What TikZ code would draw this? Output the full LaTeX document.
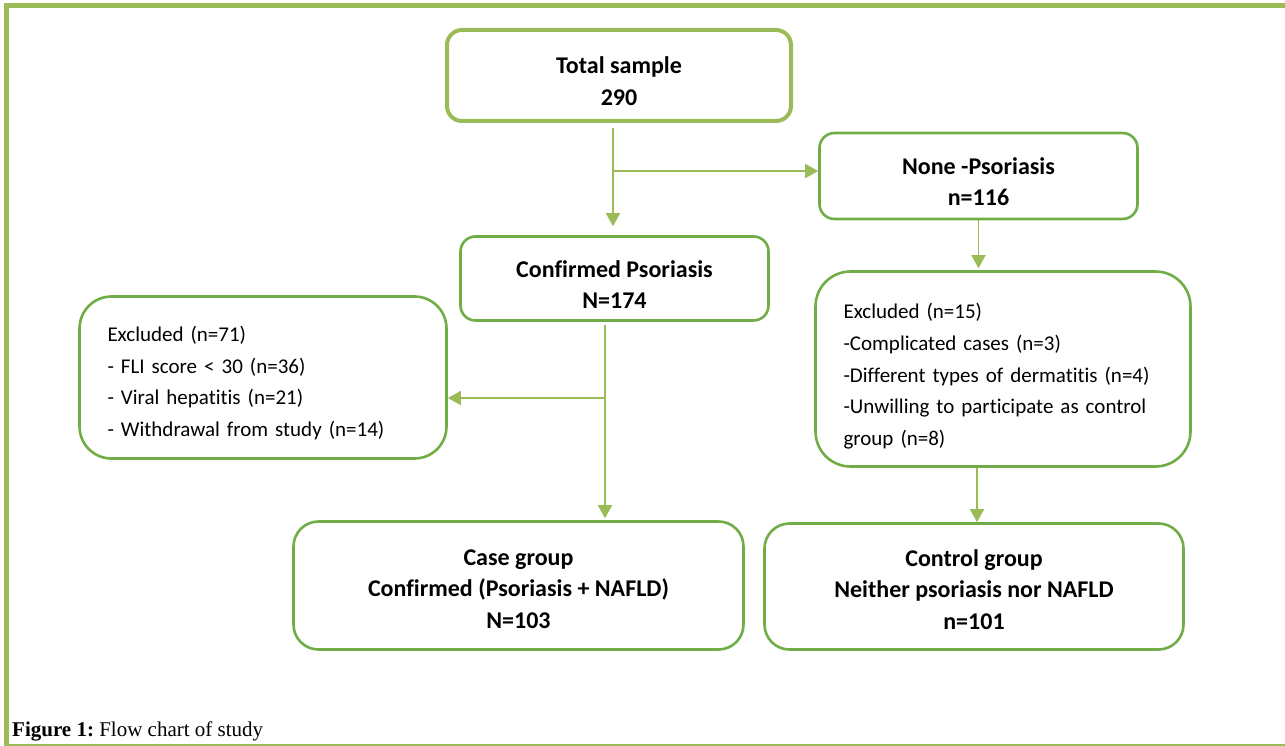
\documentclass[tikz,border=0pt]{standalone}
\usepackage{fontspec}
\setmainfont{Carlito}[Ligatures=NoCommon]
\newfontfamily\capfont{Liberation Serif}
\usetikzlibrary{arrows.meta}
\definecolor{lgrn}{RGB}{155,187,89}
\definecolor{dgrn}{RGB}{112,173,71}
\begin{document}
\begin{tikzpicture}[x=1pt, y=-1pt,
		box/.style={draw=dgrn, line width=2.6pt, rounded corners=15pt, inner sep=0pt, align=center, text height=60pt, font=\fontsize{24}{31.5}\selectfont\bfseries},
		listbox/.style={draw=dgrn, line width=2.6pt, rounded corners=32pt, inner xsep=28pt, inner ysep=0pt, align=left, font=\fontsize{21}{31.6}\selectfont},
		arr/.style={draw=lgrn, line width=1.6pt, -{Triangle[length=13pt,width=14pt]}}]
		\useasboundingbox (0,0) rectangle (1285,746);
		\draw[lgrn, line width=5pt] (6.5,750) -- (6.5,5.5) -- (1290,5.5);
		\draw[lgrn, line width=2pt] (6.5,745) -- (1290,745);
		\node at (619,75.5) [box, draw=lgrn, line width=4pt, minimum width=344pt, minimum height=91pt] (tot) {Total sample\\290};
		\node at (978.5,176) [box, minimum width=318pt, minimum height=86pt] (non) {None -Psoriasis\\n=116};
		\node at (614.5,278.5) [box, minimum width=308pt, minimum height=84pt] (conf) {Confirmed Psoriasis\\N=174};
		\node at (263,377.5) [listbox, text height=26pt, text width=311pt, minimum height=162pt] (exl) {Excluded (n=71)\\- FLI score {\char`\<} 30 (n=36)\\- Viral hepatitis (n=21)\\- Withdrawal from study (n=14)};
		\node at (1003,369) [listbox, text height=30pt, rounded corners=35pt, text width=319pt, minimum height=195pt] (exr) {Excluded (n=15)\\-Complicated cases (n=3)\\-Different types of dermatitis (n=4)\\-Unwilling to participate as control\\group (n=8)};
		\node at (518.5,585.5) [box, text height=86pt, rounded corners=25pt, minimum width=450pt, minimum height=128pt] (case) {Case group\\Confirmed (Psoriasis + NAFLD)\\N=103};
		\node at (974,586.5) [box, text height=86pt, rounded corners=25pt, minimum width=419pt, minimum height=126pt] (ctl) {Control group\\Neither psoriasis nor NAFLD\\n=101};
		\node at (12,736) [anchor=base west, inner sep=0pt] (cap) {\capfont\fontsize{21}{24}\selectfont\textbf{Figure 1:}\ Flow chart of study};
		\coordinate (split) at (613,171);
		\coordinate (knee) at (605,398);
		\draw[arr, shorten <=5pt, shorten >=9pt] (tot.south -| split) -- (conf.north -| split);
		\draw[arr] (split) -- (split -| non.west);
		\draw[arr, shorten >=2pt] (non.south) -- (non.south |- exr.north);
		\draw[arr, shorten <=3pt, shorten >=2pt] (conf.south -| knee) -- (case.north -| knee);
		\draw[arr] (knee) -- (knee -| exl.east);
		\draw[arr] (exr.south -| 977,0) -- (ctl.north -| 977,0);
	\end{tikzpicture}
\end{document}
